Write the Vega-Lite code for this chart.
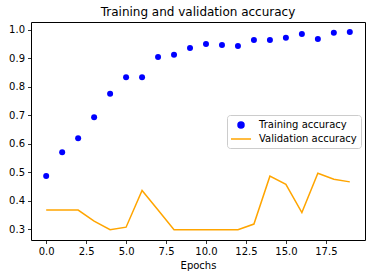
{
  "$schema": "https://vega.github.io/schema/vega-lite/v6.json",
  "width": 334,
  "height": 218,
  "autosize": {"type": "none"},
  "padding": {"left": 31, "top": 22, "right": 7, "bottom": 38},
  "background": "white",
  "config": {
    "font": "DejaVu Sans",
    "view": {"stroke": "black", "strokeWidth": 1},
    "axis": {
      "domain": false,
      "grid": false,
      "tickColor": "black",
      "tickSize": 3.5,
      "tickWidth": 0.8,
      "labelColor": "black",
      "labelFont": "DejaVu Sans",
      "labelFontSize": 10,
      "labelPadding": 3,
      "labelFlush": false,
      "labelOverlap": false,
      "titleFont": "DejaVu Sans",
      "titleFontSize": 10,
      "titleFontWeight": "normal",
      "titleColor": "black"
    }
  },
  "title": {
    "text": "Training and validation accuracy",
    "font": "DejaVu Sans",
    "fontSize": 12,
    "fontWeight": "normal",
    "color": "black",
    "offset": 3
  },
  "data": {
    "values": [
      {"epoch": 0, "value": 0.488, "series": "Training accuracy"},
      {"epoch": 1, "value": 0.571, "series": "Training accuracy"},
      {"epoch": 2, "value": 0.620, "series": "Training accuracy"},
      {"epoch": 3, "value": 0.694, "series": "Training accuracy"},
      {"epoch": 4, "value": 0.776, "series": "Training accuracy"},
      {"epoch": 5, "value": 0.834, "series": "Training accuracy"},
      {"epoch": 6, "value": 0.834, "series": "Training accuracy"},
      {"epoch": 7, "value": 0.905, "series": "Training accuracy"},
      {"epoch": 8, "value": 0.913, "series": "Training accuracy"},
      {"epoch": 9, "value": 0.937, "series": "Training accuracy"},
      {"epoch": 10, "value": 0.951, "series": "Training accuracy"},
      {"epoch": 11, "value": 0.947, "series": "Training accuracy"},
      {"epoch": 12, "value": 0.944, "series": "Training accuracy"},
      {"epoch": 13, "value": 0.965, "series": "Training accuracy"},
      {"epoch": 14, "value": 0.965, "series": "Training accuracy"},
      {"epoch": 15, "value": 0.973, "series": "Training accuracy"},
      {"epoch": 16, "value": 0.986, "series": "Training accuracy"},
      {"epoch": 17, "value": 0.968, "series": "Training accuracy"},
      {"epoch": 18, "value": 0.990, "series": "Training accuracy"},
      {"epoch": 19, "value": 0.993, "series": "Training accuracy"},
      {"epoch": 0, "value": 0.368, "series": "Validation accuracy"},
      {"epoch": 1, "value": 0.368, "series": "Validation accuracy"},
      {"epoch": 2, "value": 0.368, "series": "Validation accuracy"},
      {"epoch": 3, "value": 0.329, "series": "Validation accuracy"},
      {"epoch": 4, "value": 0.299, "series": "Validation accuracy"},
      {"epoch": 5, "value": 0.308, "series": "Validation accuracy"},
      {"epoch": 6, "value": 0.437, "series": "Validation accuracy"},
      {"epoch": 7, "value": 0.368, "series": "Validation accuracy"},
      {"epoch": 8, "value": 0.299, "series": "Validation accuracy"},
      {"epoch": 9, "value": 0.299, "series": "Validation accuracy"},
      {"epoch": 10, "value": 0.299, "series": "Validation accuracy"},
      {"epoch": 11, "value": 0.299, "series": "Validation accuracy"},
      {"epoch": 12, "value": 0.299, "series": "Validation accuracy"},
      {"epoch": 13, "value": 0.319, "series": "Validation accuracy"},
      {"epoch": 14, "value": 0.487, "series": "Validation accuracy"},
      {"epoch": 15, "value": 0.458, "series": "Validation accuracy"},
      {"epoch": 16, "value": 0.359, "series": "Validation accuracy"},
      {"epoch": 17, "value": 0.497, "series": "Validation accuracy"},
      {"epoch": 18, "value": 0.476, "series": "Validation accuracy"},
      {"epoch": 19, "value": 0.467, "series": "Validation accuracy"}
    ]
  },
  "encoding": {
    "x": {
      "field": "epoch",
      "type": "quantitative",
      "title": "Epochs",
      "scale": {"domain": [-0.95, 19.95], "nice": false, "zero": false},
      "axis": {"values": [0, 2.5, 5, 7.5, 10, 12.5, 15, 17.5], "format": ".1f", "titlePadding": 4}
    },
    "y": {
      "field": "value",
      "type": "quantitative",
      "title": null,
      "scale": {"domain": [0.263, 1.028], "nice": false, "zero": false},
      "axis": {"values": [0.3, 0.4, 0.5, 0.6, 0.7, 0.8, 0.9, 1.0], "format": ".1f"}
    },
    "color": {
      "field": "series",
      "type": "nominal",
      "scale": {"domain": ["Training accuracy", "Validation accuracy"], "range": ["blue", "orange"]},
      "legend": {
        "title": null,
        "orient": "none",
        "legendX": 196,
        "legendY": 93,
        "padding": 4,
        "symbolOffset": 4,
        "symbolSize": 100,
        "labelOffset": 12,
        "rowPadding": 2,
        "labelFont": "DejaVu Sans",
        "labelFontSize": 10,
        "labelColor": "black",
        "fillColor": "white",
        "strokeColor": "#cccccc",
        "cornerRadius": 3,
        "encode": {
          "symbols": {
            "update": {
              "shape": {"signal": "datum.value === 'Training accuracy' ? 'circle' : 'M-2,0H2'"},
              "size": {"signal": "datum.value === 'Training accuracy' ? 36 : 100"},
              "fill": {"signal": "datum.value === 'Training accuracy' ? 'blue' : 'transparent'"},
              "stroke": {"signal": "datum.value === 'Training accuracy' ? 'transparent' : 'orange'"},
              "strokeWidth": {"value": 1.5},
              "opacity": {"value": 1}
            }
          }
        }
      }
    }
  },
  "layer": [
    {
      "transform": [{"filter": "datum.series === 'Training accuracy'"}],
      "mark": {"type": "point", "filled": true, "size": 36, "opacity": 1}
    },
    {
      "transform": [{"filter": "datum.series === 'Validation accuracy'"}],
      "mark": {"type": "line", "strokeWidth": 1.5}
    }
  ]
}
